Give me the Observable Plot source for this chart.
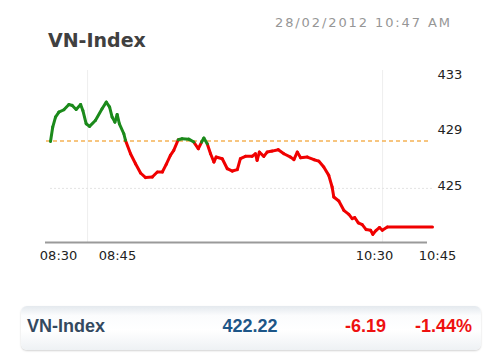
<!DOCTYPE html>
<html>
<head>
<meta charset="utf-8">
<script src="https://cdn.jsdelivr.net/npm/d3@7"></script>
<script src="https://cdn.jsdelivr.net/npm/@observablehq/plot@0.6"></script>
<style>
  html, body { margin: 0; padding: 0; background: #fff; }
  body { width: 500px; height: 357px; position: relative; overflow: hidden; }
  #title { position: absolute; left: 48px; top: 31px; font: bold 19px/19px "DejaVu Sans", sans-serif; color: #404040; white-space: nowrap; }
  #stamp { position: absolute; left: 275px; top: 16px; font: 13px/13px "DejaVu Sans", sans-serif; letter-spacing: 1.9px; color: #969696; white-space: nowrap; }
  #chart { position: absolute; left: 0; top: 0; }
  #bar { position: absolute; left: 21px; top: 306px; width: 460px; height: 44px; border-radius: 6px;
         background: linear-gradient(to bottom, #e4e9ee 0%, #fbfcfd 22%, #ffffff 55%, #eef1f4 100%);
         box-shadow: 0 1px 2px rgba(0,0,0,0.18); }
  .bt { position: absolute; top: 11px; font: bold 18px/18px "Liberation Sans", Arial, sans-serif; white-space: nowrap; }
</style>
</head>
<body>
<div id="chart"></div>
<div id="title"></div>
<div id="stamp"></div>
<div id="bar">
  <span class="bt" id="bName" style="left:6px;color:#34495f"></span>
  <span class="bt" id="bValue" style="left:0;width:458px;text-align:center;color:#1d5688"></span>
  <span class="bt" id="bChange" style="right:95px;color:#ee1111"></span>
  <span class="bt" id="bPct" style="right:9px;color:#ee1111"></span>
</div>
<script>
// ---- data ----
const titleText = "VN-Index";
const stampText = "28/02/2012 10:47 AM";
const indexName = "VN-Index";
const lastValue = 422.22;
const changeValue = -6.19;
const changePct = -1.44;
const refValue = 428.41; // previous close

// minutes after 08:30
const mins = [0, 0.8, 1.8, 3.0, 4.8, 6.6, 7.8, 9.2, 10.8, 11.6, 12.8, 14.0, 16.1, 18.5, 20.0, 21.2, 22.1, 23.1, 23.9, 24.7,
  26.3, 26.9, 28.7, 30.5, 32.3, 34.1, 36.5, 38.3, 40.1, 41.5, 43.0, 44.2, 45.8, 47.2, 49.6, 51.4, 53.0, 54.2, 55.0, 56.2,
  57.4, 58.6, 59.4, 61.6, 63.4, 65.2, 67.0, 68.1, 69.9, 72.3, 73.5, 74.1, 74.9, 76.5, 77.7, 79.5, 81.7, 83.7, 86.1, 87.3,
  88.5, 89.7, 92.1, 94.5, 96.2, 98.0, 99.8, 101.0, 101.6, 103.4, 105.2, 107.0, 108.2, 109.1, 110.4, 111.8, 113.2, 114.8, 115.6, 116.8,
  118.0, 119.0, 120.8, 137.0];
const vals = [428.38, 429.42, 430.14, 430.50, 430.67, 431.05, 430.98, 430.69, 431.05, 430.62, 429.66, 429.47, 429.90, 430.74, 431.22, 430.86, 430.14, 429.78, 430.33, 429.66,
  428.94, 428.46, 427.50, 426.78, 426.11, 425.78, 425.82, 426.18, 426.18, 426.73, 427.38, 427.74, 428.51, 428.58, 428.55, 428.34, 427.86, 428.34, 428.63, 428.22,
  427.50, 426.90, 427.26, 427.14, 426.42, 426.25, 426.35, 427.14, 427.31, 427.31, 427.50, 427.02, 427.62, 427.31, 427.62, 427.69, 427.79, 427.50, 427.26, 427.07,
  427.62, 427.21, 427.26, 427.07, 426.97, 426.54, 425.94, 425.10, 424.38, 424.09, 423.42, 423.13, 422.82, 422.90, 422.51, 422.39, 422.03, 421.98, 421.69, 421.98,
  422.18, 421.98, 422.22, 422.22];

const yTicks = [425, 429, 433];
const xTickLabels = ["08:30", "08:45", "10:30", "10:45"];
const xTickAt = [2.9, 24.0, 116.2, 138.8];   // where the labels sit (minutes after 08:30)
const gridX = [13.3, 119.1];

// ---- page text ----
document.getElementById("title").textContent = titleText;
document.getElementById("stamp").textContent = stampText;
document.getElementById("bName").textContent = indexName;
document.getElementById("bValue").textContent = lastValue.toFixed(2);
document.getElementById("bChange").textContent = changeValue.toFixed(2);
document.getElementById("bPct").textContent = changePct.toFixed(2) + "%";

// ---- chart ----
const pts = mins.map((m, i) => ({m, v: vals[i]}));
const segs = d3.pairs(pts).map(([a, b]) => ({x1: a.m, y1: a.v, x2: b.m, y2: b.v, up: (a.v + b.v) / 2 >= refValue}));

const chart = Plot.plot({
  width: 500,
  height: 290,
  marginLeft: 50,
  marginRight: 68,
  marginTop: 70,
  marginBottom: 48,
  style: {fontFamily: "DejaVu Sans, sans-serif", fontSize: "13px", color: "#222", background: "transparent"},
  x: {domain: [0, 137], axis: null},
  y: {domain: [421.1, 433.5], axis: null},
  marks: [
    Plot.ruleX(gridX, {stroke: "#eeeeee", strokeWidth: 1}),
    Plot.ruleY([425], {stroke: "#e4e4e4", strokeWidth: 1, strokeDasharray: "2,2"}),
    Plot.ruleY([refValue], {stroke: "#f5b356", strokeWidth: 1.5, strokeDasharray: "4,3", dx: -4}),
    Plot.ruleY([421.1], {stroke: "#9a9a9a", strokeWidth: 2, dx: -5}),
    Plot.link(segs.filter(d => !d.up), {x1: "x1", y1: "y1", x2: "x2", y2: "y2", stroke: "#f00000", strokeWidth: 3, strokeLinecap: "round"}),
    Plot.link(segs.filter(d => d.up), {x1: "x1", y1: "y1", x2: "x2", y2: "y2", stroke: "#1b8a1b", strokeWidth: 3, strokeLinecap: "round"}),
    Plot.text(yTicks, {y: d => d, text: d => String(d), frameAnchor: "right", textAnchor: "start", dx: 5, dy: -3, fill: "#222"}),
    Plot.text(xTickLabels, {x: (d, i) => xTickAt[i], text: d => d, frameAnchor: "bottom", dy: 17, fill: "#222", style: "letter-spacing:1px"})
  ]
});
document.getElementById("chart").appendChild(chart);
</script>
</body>
</html>
